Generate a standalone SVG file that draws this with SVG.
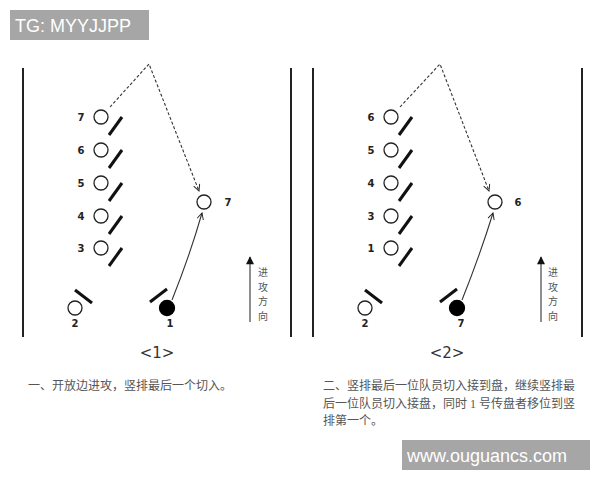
<svg xmlns="http://www.w3.org/2000/svg" width="600" height="480" viewBox="0 0 600 480">
<defs>
<marker id="vee" viewBox="0 0 10 10" refX="9" refY="5" markerWidth="8" markerHeight="8" markerUnits="userSpaceOnUse" orient="auto"><path d="M1,1 L9,5 L1,9" fill="none" stroke="#222" stroke-width="1.2"/></marker>
<marker id="tri" viewBox="0 0 10 10" refX="9" refY="5" markerWidth="9" markerHeight="8" markerUnits="userSpaceOnUse" orient="auto"><path d="M0,0 L10,5 L0,10 Z" fill="#111"/></marker>
</defs>
<style>
.wall{stroke:#222;stroke-width:2}
.p{fill:#fff;stroke:#222;stroke-width:1.3}
.pf{fill:#000;stroke:#000;stroke-width:1.3}
.mk{stroke:#111;stroke-width:3;stroke-linecap:butt}
.num{font-family:"DejaVu Sans",sans-serif;font-weight:bold;font-size:10px;fill:#222;text-anchor:middle}
.dash{fill:none;stroke:#333;stroke-width:1.1;stroke-dasharray:3,2}
.sol{fill:none;stroke:#333;stroke-width:1.1}
.dir{font-family:"Noto Sans CJK SC",sans-serif;font-size:10px;fill:#555;text-anchor:middle}
.lab{font-family:"DejaVu Sans",sans-serif;font-size:15px;fill:#333;text-anchor:middle}
.cap{font-family:"Liberation Serif","Noto Sans CJK SC",serif;font-size:12px;fill:#555}
.wm{font-family:"Liberation Sans",Arial,sans-serif;font-size:18px;fill:#fff}
</style>
<rect x="10" y="10" width="139" height="30" fill="#a6a6a6"/>
<text class="wm" x="15" y="32">TG: MYYJJPP</text>
<g id="walls">
<line class="wall" x1="23" y1="68" x2="23" y2="337"/>
<line class="wall" x1="291" y1="68" x2="291" y2="337"/>
<line class="wall" x1="313" y1="68" x2="313" y2="337"/>
<line class="wall" x1="582" y1="68" x2="582" y2="337"/>
</g>
<g id="connectors">
<path class="dash" d="M110,107 L149,64 L199,191" marker-end="url(#vee)"/>
<path class="sol" d="M172,300 Q190,255 202,213" marker-end="url(#vee)"/>
<path class="dash" d="M400,107 L440,64 L489,191" marker-end="url(#vee)"/>
<path class="sol" d="M462,300 Q480,255 493,213" marker-end="url(#vee)"/>
<line class="sol" x1="250" y1="322" x2="250" y2="257" marker-end="url(#tri)"/>
<line class="sol" x1="541" y1="322" x2="541" y2="257" marker-end="url(#tri)"/>
</g>
<g id="panel1">
<g id="p1-7"><circle class="p" cx="101" cy="117" r="7"/><line class="mk" x1="109" y1="135" x2="122" y2="117"/><text class="num" x="81" y="121">7</text></g>
<g id="p1-6"><circle class="p" cx="101" cy="150" r="7"/><line class="mk" x1="109" y1="168" x2="122" y2="150"/><text class="num" x="81" y="154">6</text></g>
<g id="p1-5"><circle class="p" cx="101" cy="183" r="7"/><line class="mk" x1="109" y1="201" x2="122" y2="183"/><text class="num" x="81" y="187">5</text></g>
<g id="p1-4"><circle class="p" cx="101" cy="216" r="7"/><line class="mk" x1="109" y1="234" x2="122" y2="216"/><text class="num" x="81" y="220">4</text></g>
<g id="p1-3"><circle class="p" cx="101" cy="248" r="7"/><line class="mk" x1="109" y1="266" x2="122" y2="248"/><text class="num" x="81" y="252">3</text></g>
<g id="p1-2"><circle class="p" cx="75" cy="308" r="7"/><line class="mk" x1="75" y1="290" x2="92" y2="303"/><text class="num" x="75" y="327">2</text></g>
<g id="p1-1"><circle class="pf" cx="167" cy="308" r="7.5"/><line class="mk" x1="150" y1="302" x2="167" y2="289"/><text class="num" x="170" y="327">1</text></g>
<g id="p1-t"><circle class="p" cx="204" cy="202" r="7"/><text class="num" x="228" y="206">7</text></g>
<text class="dir" x="263" y="276">进</text><text class="dir" x="263" y="290.5">攻</text><text class="dir" x="263" y="305">方</text><text class="dir" x="263" y="319.5">向</text>
<text class="lab" x="157" y="358">&lt;1&gt;</text>
<text class="cap" x="28" y="390">一、开放边进攻，竖排最后一个切入。</text>
</g>
<g id="panel2">
<g id="p2-6"><circle class="p" cx="391" cy="117" r="7"/><line class="mk" x1="399" y1="135" x2="412" y2="117"/><text class="num" x="371" y="121">6</text></g>
<g id="p2-5"><circle class="p" cx="391" cy="150" r="7"/><line class="mk" x1="399" y1="168" x2="412" y2="150"/><text class="num" x="371" y="154">5</text></g>
<g id="p2-4"><circle class="p" cx="391" cy="183" r="7"/><line class="mk" x1="399" y1="201" x2="412" y2="183"/><text class="num" x="371" y="187">4</text></g>
<g id="p2-3"><circle class="p" cx="391" cy="216" r="7"/><line class="mk" x1="399" y1="234" x2="412" y2="216"/><text class="num" x="371" y="220">3</text></g>
<g id="p2-1"><circle class="p" cx="391" cy="248" r="7"/><line class="mk" x1="399" y1="266" x2="412" y2="248"/><text class="num" x="371" y="252">1</text></g>
<g id="p2-2"><circle class="p" cx="365" cy="308" r="7"/><line class="mk" x1="365" y1="290" x2="382" y2="303"/><text class="num" x="365" y="327">2</text></g>
<g id="p2-7"><circle class="pf" cx="457" cy="308" r="7.5"/><line class="mk" x1="440" y1="302" x2="457" y2="289"/><text class="num" x="461" y="327">7</text></g>
<g id="p2-t"><circle class="p" cx="495" cy="202" r="7"/><text class="num" x="518" y="206">6</text></g>
<text class="dir" x="553" y="276">进</text><text class="dir" x="553" y="290.5">攻</text><text class="dir" x="553" y="305">方</text><text class="dir" x="553" y="319.5">向</text>
<text class="lab" x="447" y="358">&lt;2&gt;</text>
<text class="cap" x="323" y="390">二、竖排最后一位队员切入接到盘，继续竖排最</text>
<text class="cap" x="323" y="408">后一位队员切入接盘，同时 1 号传盘者移位到竖</text>
<text class="cap" x="323" y="425">排第一个。</text>
</g>
<rect x="402" y="440" width="188" height="30" fill="#a6a6a6"/>
<text class="wm" x="407" y="462">www.ouguancs.com</text>
</svg>
